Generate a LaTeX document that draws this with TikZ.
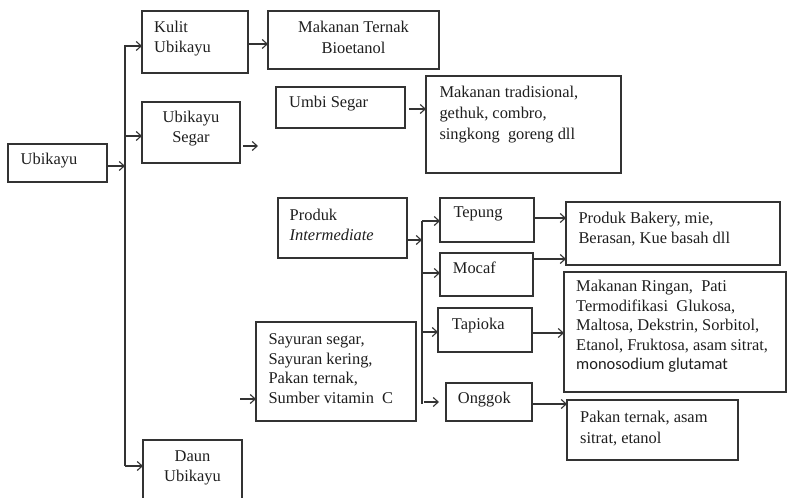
\documentclass[tikz,border=0pt]{standalone}
\usepackage{fontspec}
\setmainfont{Liberation Serif}
\newfontfamily\carlitofont{Carlito}
\usetikzlibrary{arrows.meta}
\definecolor{linec}{HTML}{333333}
\definecolor{txtc}{HTML}{1E1E1E}
\begin{document}
\begin{tikzpicture}[x=1bp,y=-1bp,
  box/.style={draw=linec, line width=1.1bp, anchor=north west, inner sep=0pt, outer sep=0pt},
  txt/.style={anchor=north west, inner sep=0pt, align=left, text=txtc, font=\fontsize{16.5}{20}\selectfont},
  ctxt/.style={txt, anchor=north, align=center},
  ln/.style={draw=linec, line width=1.1bp},
  arr/.style={ln, -{Straight Barb[length=5bp,width=9bp]}}]
\useasboundingbox (0,0) rectangle (788,498);

% boxes
\node[box, minimum width=99bp,  minimum height=38bp]  (ubi)     at (8,144)   {};
\node[box, minimum width=106bp, minimum height=62bp]  (kulit)   at (142,11)  {};
\node[box, minimum width=171bp, minimum height=58bp]  (mak1)    at (268,11)  {};
\node[box, minimum width=98bp,  minimum height=61bp]  (usegar)  at (142,102) {};
\node[box, minimum width=129bp, minimum height=41bp]  (umbi)    at (276,87)  {};
\node[box, minimum width=195bp, minimum height=97bp]  (maktrad) at (426,76)  {};
\node[box, minimum width=129bp, minimum height=60bp]  (prodint) at (278,198) {};
\node[box, minimum width=94bp,  minimum height=44bp]  (tepung)  at (440,198) {};
\node[box, minimum width=93bp,  minimum height=43bp]  (mocaf)   at (440,253) {};
\node[box, minimum width=94bp,  minimum height=44bp]  (tapioka) at (438,308) {};
\node[box, minimum width=86bp,  minimum height=38bp]  (onggok)  at (446,383) {};
\node[box, minimum width=160bp, minimum height=99bp]  (sayur)   at (256,322) {};
\node[box, minimum width=214bp, minimum height=63bp]  (bakery)  at (566,202) {};
\node[box, minimum width=222bp, minimum height=120bp] (ringan)  at (564,272) {};
\node[box, minimum width=171bp, minimum height=60bp]  (pakan)   at (567,400) {};
\node[box, minimum width=99bp,  minimum height=80bp]  (daun)    at (143,440) {};

% texts
\node[txt] (ubiT) at (20.5,150) {\strut Ubikayu};
\node[txt, font=\fontsize{16.5}{19.6}\selectfont] (kulitT) at (154,18.8) {\strut Kulit\\Ubikayu};
\node[ctxt, font=\fontsize{16.5}{21}\selectfont] (mak1T) at (353.5,17.3) {\strut Makanan Ternak\\Bioetanol};
\node[ctxt] (usegarT) at (191,108) {\strut Ubikayu\\Segar};
\node[txt] (umbiT) at (289,93.3) {\strut Umbi Segar};
\node[txt, font=\fontsize{16.5}{21}\selectfont] (maktradT) at (439.3,82.8) {\strut Makanan tradisional,\\gethuk, combro,\\singkong\ \ goreng dll};
\node[txt] (prodintT) at (289.5,206.6) {\strut Produk\\\textit{Intermediate}};
\node[txt] (tepungT) at (453.3,203.3) {\strut Tepung};
\node[txt] (mocafT) at (452.7,259.3) {\strut Mocaf};
\node[txt] (tapiokaT) at (451.7,315) {\strut Tapioka};
\node[txt] (onggokT) at (457.7,389.3) {\strut Onggok};
\node[txt] (sayurT) at (268.3,330) {\strut Sayuran segar,\\Sayuran kering,\\Pakan ternak,\\Sumber vitamin\ \ C};
\node[txt] (bakeryT) at (578.3,209.3) {\strut Produk Bakery, mie,\\Berasan, Kue basah dll};
\node[txt, font=\fontsize{16.5}{19.7}\selectfont] (ringanT) at (576,277.5) {\strut Makanan Ringan,\ \ Pati\\Termodifikasi\ \ Glukosa,\\Maltosa, Dekstrin, Sorbitol,\\Etanol,\ Fruktosa, asam sitrat,\\{\carlitofont monosodium glutamat}};
\node[txt, font=\fontsize{16.5}{20.7}\selectfont] (pakanT) at (580,407.8) {\strut Pakan ternak, asam\\sitrat, etanol};
\node[ctxt] (daunT) at (192.5,447.3) {\strut Daun\\Ubikayu};

% first trunk
\coordinate (j0) at (125,166);
\coordinate (j1) at (125,46);
\coordinate (j2) at (125,136);
\coordinate (j3) at (125,466);
\coordinate (t1top) at (125,45);
\draw[ln] (t1top) -- (j3);
\draw[arr] (ubi.east |- j0) -- (j0);
\draw[arr] (j1) -- (kulit.west |- j1);
\draw[arr] (j2) -- (usegar.west |- j2);
\draw[arr] (j3) -- (daun.west |- j3);

% from kulit, ubikayu segar, umbi segar
\coordinate (k1) at (258,44);
\draw[arr] (kulit.east |- k1) -- (mak1.west |- k1);
\coordinate (usEnd) at (258,146);
\draw[arr, shorten <=3bp] (usegar.east |- usEnd) -- (usEnd);
\coordinate (m1) at (415,109);
\draw[arr, shorten <=4bp] (umbi.east |- m1) -- (maktrad.west |- m1);

% second trunk
\coordinate (p0) at (422,240);
\coordinate (p1) at (422,221);
\coordinate (p2) at (422,273);
\coordinate (p3) at (422,332);
\coordinate (p4) at (422,402);
\coordinate (p5) at (422,404);
\draw[ln] (p1) -- (p5);
\draw[arr] (prodint.east |- p0) -- (p0);
\draw[arr] (p1) -- (tepung.west |- p1);
\draw[arr] (p2) -- (mocaf.west |- p2);
\draw[arr] (p3) -- (tapioka.west |- p3);
\draw[arr, shorten <=2bp, shorten >=7bp] (p4) -- (onggok.west |- p4);

% free arrow into sayuran
\coordinate (sayStart) at (240,399);
\draw[arr] (sayStart) -- (sayur.west |- sayStart);

% right column
\coordinate (q1) at (550,218);
\coordinate (q2) at (550,259);
\coordinate (q3) at (550,333);
\coordinate (q4) at (550,404);
\draw[arr] (tepung.east |- q1) -- (bakery.west |- q1);
\draw[arr] (mocaf.east |- q2) -- (bakery.west |- q2);
\draw[arr] (tapioka.east |- q3) -- (ringan.west |- q3);
\draw[arr] (onggok.east |- q4) -- (pakan.west |- q4);
\end{tikzpicture}
\end{document}
